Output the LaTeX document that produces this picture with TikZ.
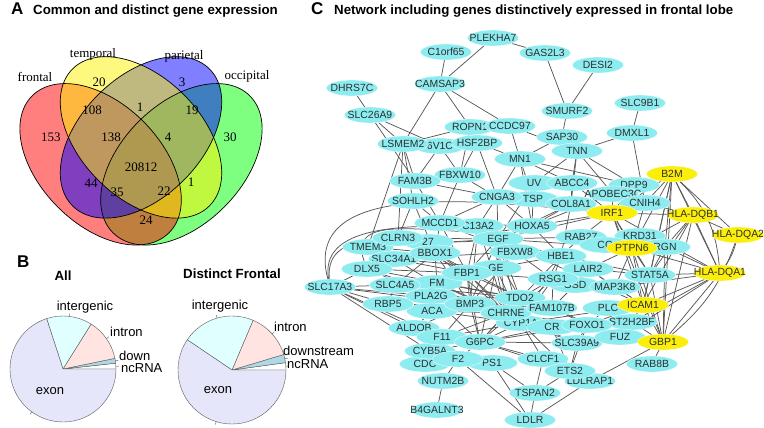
\documentclass[tikz,border=0pt]{standalone}
\usepackage{fontspec}
\setmainfont{Liberation Sans}
\newfontfamily\timesf{Liberation Serif}
\usetikzlibrary{shapes.geometric}
\pgfdeclarelayer{back}
\pgfdeclarelayer{bg}
\pgfsetlayers{back,bg,main}
\definecolor{cnode}{RGB}{140,236,240}
\definecolor{ynode}{RGB}{250,238,10}
\definecolor{edgec}{RGB}{88,88,88}
\definecolor{labc}{RGB}{45,45,45}
\definecolor{pexon}{RGB}{230,230,250}
\definecolor{pinter}{RGB}{224,255,255}
\definecolor{pintron}{RGB}{255,228,225}
\definecolor{pdown}{RGB}{173,216,230}
\definecolor{pline}{RGB}{90,90,90}
\newcommand\gnode[4]{\node[gene] (#1) at (#2,-#3) {\makebox[0pt]{#4}};}
\newcommand\ynode[4]{\node[gene,fill=ynode] (#1) at (#2,-#3) {\makebox[0pt]{#4}};}
\newcommand\pieslice[6]{\filldraw[fill=#6,draw=pline,line width=0.4pt] (#1,#2) -- ++(#4:#3) arc[start angle=#4,end angle=#5,radius=#3] -- cycle;}
\newcommand\pietick[4]{\draw[pline,line width=0.4pt] ([shift={(#4:#3)}]#1,#2) -- ([shift={(#4:#3+3)}]#1,#2);}
\begin{document}
\begin{tikzpicture}[x=1pt,y=1pt,
  gene/.style={ellipse,fill=cnode,draw=white,line width=0.3pt,minimum width=51pt,minimum height=16pt,inner sep=0pt,text=labc,font=\fontsize{10.4}{12}\selectfont},
  lnk/.style={draw=edgec,line width=0.75pt},
  vnum/.style={font=\timesf\fontsize{13}{15}\selectfont},
  plab/.style={font=\fontsize{13}{15}\selectfont},
  ptitle/.style={font=\bfseries\fontsize{13.3}{15}\selectfont},
  pletter/.style={font=\bfseries\fontsize{17}{19}\selectfont}]
\useasboundingbox (0,0) rectangle (764,-428);
\begin{pgfonlayer}{back}
\fill[white] (0,0) rectangle (764,-428);
\end{pgfonlayer}

% ---------- titles ----------
\node[pletter,anchor=base west,inner sep=0] (lA) at (11,-15) {A};
\node[ptitle,anchor=base west,inner sep=0] (tA) at (33,-15) {Common and distinct gene expression};
\node[pletter,anchor=base west,inner sep=0] (lB) at (17,-267) {B};
\node[pletter,anchor=base west,inner sep=0] (lC) at (311,-15) {C};
\node[ptitle,anchor=base west,inner sep=0] (tC) at (334,-15) {Network including genes distinctively expressed in frontal lobe};

% ---------- Venn ----------
\fill[green,fill opacity=0.5,rotate around={45:(181.4,-164.3)}] (181.4,-164.3) ellipse [x radius=96.8,y radius=60.5];
\fill[red,fill opacity=0.5,rotate around={135:(100.6,-164.3)}] (100.6,-164.3) ellipse [x radius=96.8,y radius=60.5];
\fill[blue,fill opacity=0.5,rotate around={45:(141,-137.4)}] (141,-137.4) ellipse [x radius=96.8,y radius=60.5];
\fill[yellow,fill opacity=0.5,rotate around={135:(141,-137.4)}] (141,-137.4) ellipse [x radius=96.8,y radius=60.5];
\begin{scope}[line width=0.7pt]
\draw[rotate around={45:(181.4,-164.3)}] (181.4,-164.3) ellipse [x radius=96.8,y radius=60.5];
\draw[rotate around={135:(100.6,-164.3)}] (100.6,-164.3) ellipse [x radius=96.8,y radius=60.5];
\draw[rotate around={45:(141,-137.4)}] (141,-137.4) ellipse [x radius=96.8,y radius=60.5];
\draw[rotate around={135:(141,-137.4)}] (141,-137.4) ellipse [x radius=96.8,y radius=60.5];
\end{scope}
\node[vnum,anchor=base] (sF) at (35,-81.7) {frontal};
\node[vnum,anchor=base] (sT) at (93,-57.3) {temporal};
\node[vnum,anchor=base] (sP) at (184,-60) {parietal};
\node[vnum,anchor=base] (sO) at (247,-80) {occipital};
\node[vnum] (v1) at (51,-137) {153};
\node[vnum] (v2) at (99,-82) {20};
\node[vnum] (v3) at (182,-82) {3};
\node[vnum] (v4) at (230,-137) {30};
\node[vnum] (v5) at (92,-110) {108};
\node[vnum] (v6) at (140,-107) {1};
\node[vnum] (v7) at (192,-110) {19};
\node[vnum] (v8) at (111,-137) {138};
\node[vnum] (v9) at (168,-137) {4};
\node[vnum] (v10) at (141,-167) {20812};
\node[vnum] (v11) at (91,-183) {44};
\node[vnum] (v12) at (191,-182) {1};
\node[vnum] (v13) at (117,-192) {35};
\node[vnum] (v14) at (164,-191) {22};
\node[vnum] (v15) at (146,-220) {24};

% ---------- Pies ----------
\node[ptitle,anchor=base] (tAll) at (63,-280) {All};
\node[ptitle,anchor=base] (tDF) at (232,-278) {Distinct Frontal};
\pieslice{63}{-369}{53}{0}{6.3}{white}
\pieslice{63}{-369}{53}{6.3}{11.6}{pdown}
\pieslice{63}{-369}{53}{11.6}{58}{pintron}
\pieslice{63}{-369}{53}{58}{108}{pinter}
\pieslice{63}{-369}{53}{108}{360}{pexon}
\pietick{63}{-369}{53}{3}
\pietick{63}{-369}{53}{9}
\pietick{63}{-369}{53}{35}
\pietick{63}{-369}{53}{83}
\pietick{63}{-369}{53}{234}
\pieslice{232}{-370}{54}{0}{7.8}{white}
\pieslice{232}{-370}{54}{7.8}{16.7}{pdown}
\pieslice{232}{-370}{54}{16.7}{67}{pintron}
\pieslice{232}{-370}{54}{67}{146}{pinter}
\pieslice{232}{-370}{54}{146}{360}{pexon}
\pietick{232}{-370}{54}{4}
\pietick{232}{-370}{54}{12}
\pietick{232}{-370}{54}{42}
\pietick{232}{-370}{54}{106}
\pietick{232}{-370}{54}{253}
\node[plab,anchor=base] (a1) at (85,-310) {intergenic};
\node[plab,anchor=base west,inner sep=0] (a2) at (110,-336) {intron};
\node[plab,anchor=base west,inner sep=0] (a3) at (119,-360) {down};
\node[plab,anchor=base west,inner sep=0] (a4) at (121,-372.7) {ncRNA};
\node[plab,anchor=base] (a5) at (50,-394) {exon};
\node[plab,anchor=base] (b1) at (220,-309) {intergenic};
\node[plab,anchor=base west,inner sep=0] (b2) at (274,-331) {intron};
\node[plab,anchor=base west,inner sep=0] (b3) at (283,-355) {downstream};
\node[plab,anchor=base west,inner sep=0] (b4) at (287,-368) {ncRNA};
\node[plab,anchor=base] (b5) at (218,-393) {exon};

% ---------- Network nodes (back) ----------
\gnode{fV1C}{440}{146}{6V1C}
\gnode{ROPN1}{470}{127}{ROPN1}
\gnode{fUV}{534}{183}{UV}
\gnode{fTSP}{533}{199}{TSP}
\gnode{DPP9}{634}{185}{DPP9}
\gnode{APOBEC}{613}{194}{APOBEC3C}
\gnode{fC13}{478}{226}{C13A2}
\gnode{f27}{428}{242}{27}
\gnode{fTMEM}{368}{247}{TMEM3}
\gnode{fGE}{496}{268}{GE}
\gnode{fFM}{437}{283}{FM}
\gnode{fKRD}{640}{236}{KRD31}
\gnode{fRAB}{581}{237}{RAB27}
\gnode{fCC}{605}{245}{CC}
\gnode{RGN}{665}{247}{RGN}
\gnode{fGSD}{575}{285}{GSD}
\gnode{fPLA}{431}{296}{PLA2G}
\gnode{fACA}{432}{311}{ACA}
\gnode{TDO2}{520}{298}{TDO2}
\gnode{fCYP}{521}{323}{CYP1A}
\gnode{fCR}{552}{327}{CR}
\gnode{fPLC}{608}{308}{PLC}
\gnode{fST2}{632}{322}{ST2H2BF}
\gnode{SLC39A9}{577}{343}{SLC39A9}
\gnode{fCDC}{425}{364}{CDC}
\gnode{CYB5A}{430}{351}{CYB5A}
\gnode{fPS1}{492}{363}{PS1}
\gnode{CLCF1}{543}{359}{CLCF1}
\gnode{LDLRAP1}{590}{381}{LDLRAP1}
\gnode{SLC34A1}{394}{259}{SLC34A1}
% ---------- Network nodes (front) ----------
\gnode{PLEKHA7}{493}{38}{PLEKHA7}
\gnode{C1orf65}{446}{52}{C1orf65}
\gnode{GAS2L3}{545}{53}{GAS2L3}
\gnode{DESI2}{598}{65}{DESI2}
\gnode{CAMSAP3}{440}{84}{CAMSAP3}
\gnode{DHRS7C}{352}{88}{DHRS7C}
\gnode{SLC26A9}{370}{115}{SLC26A9}
\gnode{SMURF2}{567}{111}{SMURF2}
\gnode{SLC9B1}{640}{103}{SLC9B1}
\gnode{CCDC97}{510}{126}{CCDC97}
\gnode{SAP30}{562}{137}{SAP30}
\gnode{DMXL1}{632}{133}{DMXL1}
\gnode{LSMEM2}{403}{144}{LSMEM2}
\gnode{HSF2BP}{477}{143}{HSF2BP}
\gnode{TNN}{577}{151}{TNN}
\gnode{MN1}{520}{159}{MN1}
\gnode{FBXW10}{460}{175}{FBXW10}
\gnode{FAM3B}{415}{181}{FAM3B}
\gnode{ABCC4}{572}{183}{ABCC4}
\ynode{B2M}{672}{174}{B2M}
\gnode{CNIH4}{645}{203}{CNIH4}
\gnode{COL8A1}{571}{204}{COL8A1}
\ynode{IRF1}{612}{213}{IRF1}
\ynode{HLAB}{693}{215}{HLA-DQB1}
\ynode{HLAA2}{738}{235}{HLA-DQA2}
\gnode{CNGA3}{497}{197}{CNGA3}
\gnode{SOHLH2}{413}{201}{SOHLH2}
\gnode{MCCD1}{440}{223}{MCCD1}
\gnode{HOXA5}{532}{226}{HOXA5}
\gnode{CLRN3}{398}{238}{CLRN3}
\gnode{EGF}{498}{239}{EGF}
\gnode{FBXW8}{515}{252}{FBXW8}
\gnode{BBOX1}{435}{253}{BBOX1}
\gnode{HBE1}{561}{256}{HBE1}
\ynode{PTPN6}{632}{248}{PTPN6}
\gnode{DLX5}{367}{269}{DLX5}
\gnode{FBP1}{467}{273}{FBP1}
\gnode{LAIR2}{588}{269}{LAIR2}
\gnode{STAT5A}{650}{275}{STAT5A}
\ynode{HLAA1}{720}{273}{HLA-DQA1}
\gnode{RSG1}{553}{279}{RSG1}
\gnode{MAP3K8}{615}{287}{MAP3K8}
\gnode{SLC17A3}{330}{287}{SLC17A3}
\gnode{SLC4A5}{395}{285}{SLC4A5}
\gnode{RBP5}{388}{304}{RBP5}
\gnode{BMP3}{470}{304}{BMP3}
\gnode{CHRNE}{506}{313}{CHRNE}
\gnode{FAM107B}{552}{308}{FAM107B}
\ynode{ICAM1}{643}{305}{ICAM1}
\gnode{ALDOB}{414}{328}{ALDOB}
\gnode{FOXO1}{587}{325}{FOXO1}
\gnode{F11}{442}{337}{F11}
\gnode{G6PC}{480}{342}{G6PC}
\gnode{FUZ}{620}{337}{FUZ}
\ynode{GBP1}{663}{342}{GBP1}
\gnode{F2}{458}{359}{F2}
\gnode{ETS2}{570}{371}{ETS2}
\gnode{RAB8B}{652}{364}{RAB8B}
\gnode{NUTM2B}{443}{381}{NUTM2B}
\gnode{TSPAN2}{535}{393}{TSPAN2}
\gnode{B4GALNT3}{437}{410}{B4GALNT3}
\gnode{LDLR}{530}{420}{LDLR}

% ---------- Network edges ----------
\begin{pgfonlayer}{bg}
\foreach \a/\b in {PLEKHA7/CAMSAP3, C1orf65/CAMSAP3, PLEKHA7/GAS2L3, GAS2L3/SMURF2, DESI2/SMURF2, SMURF2/SAP30, SLC9B1/DMXL1, DMXL1/TNN, DMXL1/CNIH4, CAMSAP3/LSMEM2, CAMSAP3/ROPN1, CAMSAP3/CCDC97, DHRS7C/SLC26A9, SLC26A9/LSMEM2, SLC26A9/fV1C, SLC26A9/FAM3B, CCDC97/TNN, CCDC97/MN1, LSMEM2/ROPN1, SAP30/MN1, SAP30/TNN, HSF2BP/CNGA3, HSF2BP/MN1, FAM3B/LSMEM2, FAM3B/fV1C, FBXW10/fV1C, FBXW10/HSF2BP, FBXW10/ROPN1, LSMEM2/fTMEM, LSMEM2/CLRN3, LSMEM2/SOHLH2, SOHLH2/MCCD1, SOHLH2/CLRN3, SOHLH2/BBOX1, FBXW10/MCCD1, FBXW10/CNGA3, FAM3B/CNGA3, FAM3B/MCCD1, CNGA3/MN1, CNGA3/HOXA5, CNGA3/EGF, CNGA3/MCCD1, CNGA3/fC13, CNGA3/COL8A1, MN1/HOXA5, MN1/fTSP, MN1/ABCC4, MN1/DPP9, TNN/ABCC4, TNN/COL8A1, TNN/fUV, TNN/DPP9, TNN/APOBEC, ABCC4/COL8A1, ABCC4/IRF1, fTSP/HOXA5, fUV/EGF,
MCCD1/EGF, MCCD1/FBP1, MCCD1/BBOX1, MCCD1/HOXA5, MCCD1/FBXW8, fC13/EGF, fC13/FBP1, fC13/BMP3, EGF/FBXW8, EGF/FBP1, EGF/BMP3, EGF/HBE1, EGF/TDO2, EGF/CHRNE, EGF/COL8A1, EGF/IRF1, EGF/fRAB, EGF/LAIR2, EGF/PTPN6, FBXW8/HBE1, FBXW8/FBP1, FBXW8/RSG1, FBXW8/BMP3, BBOX1/FBP1, BBOX1/SLC4A5, BBOX1/fFM, BBOX1/BMP3, CLRN3/BBOX1, CLRN3/FBP1, CLRN3/EGF, SLC34A1/FBP1, SLC34A1/BMP3, SLC34A1/fGE, DLX5/FBP1, DLX5/BMP3, DLX5/fPLA, DLX5/SLC34A1, SLC4A5/FBP1, SLC4A5/BMP3, SLC4A5/TDO2, FBP1/BMP3, FBP1/TDO2, FBP1/CHRNE, FBP1/G6PC, FBP1/RSG1, FBP1/HBE1, FBP1/fCYP, BMP3/TDO2, BMP3/CHRNE, BMP3/G6PC, BMP3/F11, BMP3/fCYP, BMP3/FAM107B, TDO2/FAM107B, TDO2/RSG1, TDO2/G6PC, CHRNE/fCYP, CHRNE/G6PC, CHRNE/FAM107B, CHRNE/FOXO1, CHRNE/SLC39A9, G6PC/fCYP, G6PC/F11, G6PC/FOXO1, G6PC/CLCF1, G6PC/SLC39A9, G6PC/ETS2, fCYP/FOXO1, fCYP/SLC39A9, fCYP/ETS2, fCYP/CLCF1, fCR/ETS2, FAM107B/FOXO1, FAM107B/RSG1, FAM107B/fGSD, FAM107B/FUZ, RSG1/LAIR2, RSG1/HBE1, RSG1/MAP3K8, HBE1/LAIR2, HBE1/fRAB, HBE1/COL8A1, HBE1/STAT5A, LAIR2/MAP3K8, LAIR2/STAT5A, LAIR2/PTPN6, fRAB/IRF1, fRAB/PTPN6, COL8A1/IRF1, COL8A1/HOXA5, HOXA5/IRF1, HOXA5/HBE1, IRF1/CNIH4, IRF1/PTPN6, IRF1/STAT5A, PTPN6/STAT5A, PTPN6/RGN, PTPN6/MAP3K8, STAT5A/MAP3K8, STAT5A/ICAM1, MAP3K8/ICAM1, MAP3K8/fGSD, fPLC/FOXO1, FOXO1/fST2, FOXO1/ICAM1, FOXO1/FUZ, FOXO1/SLC39A9, fST2/FUZ, ICAM1/FUZ, FUZ/SLC39A9, SLC39A9/ETS2, ETS2/CLCF1, CLCF1/TSPAN2, fPS1/TSPAN2, fPS1/LDLR, F2/LDLR, F2/G6PC, F2/NUTM2B, NUTM2B/B4GALNT3, fCDC/F2, CYB5A/ALDOB, CYB5A/F11, ALDOB/F11, ALDOB/fACA, ALDOB/BMP3, ALDOB/G6PC, RBP5/fACA, RBP5/BMP3, RBP5/SLC4A5, TSPAN2/LDLR, ETS2/TSPAN2, LDLR/LDLRAP1, LDLRAP1/GBP1, GBP1/RAB8B, ETS2/LDLRAP1, SLC17A3/SLC4A5, SLC17A3/RBP5, SLC17A3/ALDOB, SLC17A3/F11, SLC17A3/CYB5A, SLC17A3/DLX5, SLC17A3/fPLA, SLC17A3/BMP3, fTMEM/CLRN3, fTMEM/BBOX1, fTMEM/EGF, fTMEM/SLC34A1,
fGE/CHRNE, fGE/fCYP, fGE/G6PC, fFM/TDO2, fFM/CHRNE, fPLA/TDO2, fPLA/CHRNE, fACA/CHRNE, fACA/fCYP, SLC4A5/CHRNE, SLC4A5/fCYP, BBOX1/TDO2, BBOX1/CHRNE, fC13/TDO2, fC13/CHRNE, EGF/fCYP, HBE1/CHRNE, HBE1/fCYP, RSG1/fCYP, RSG1/G6PC, F11/fCYP, F11/CHRNE, CYB5A/G6PC, fCR/G6PC, FOXO1/ETS2, ICAM1/fCYP, SLC34A1/FBXW8, DLX5/TDO2, fPLA/G6PC, fFM/fCYP,
B2M/HLAB, B2M/HLAA1, B2M/HLAA2, B2M/GBP1, B2M/ICAM1, B2M/IRF1, B2M/PTPN6, B2M/STAT5A, B2M/CNIH4, B2M/RGN, HLAB/HLAA2, HLAB/HLAA1, HLAB/PTPN6, HLAB/RGN, HLAB/STAT5A, HLAB/IRF1, HLAB/GBP1, HLAB/ICAM1, HLAB/CNIH4, HLAA1/GBP1, HLAA1/ICAM1, HLAA1/STAT5A, HLAA1/RGN, HLAA1/IRF1, HLAA1/PTPN6, HLAA1/MAP3K8, HLAA1/FUZ, HLAA1/fST2, GBP1/ICAM1, GBP1/STAT5A, GBP1/IRF1, GBP1/FUZ, GBP1/fST2, GBP1/PTPN6, GBP1/RGN, ICAM1/IRF1, ICAM1/PTPN6, ICAM1/EGF, ICAM1/LAIR2, STAT5A/RGN, CNIH4/PTPN6, DPP9/IRF1, APOBEC/IRF1, APOBEC/EGF}
  \draw[lnk] (\a) -- (\b);
\draw[lnk] (HLAA2) to[bend left=15] (GBP1);
\draw[lnk] (HLAA2) to[bend left=10] (HLAA1);
\draw[lnk] (B2M) to[bend left=20] (HLAA1);
\draw[lnk] (SLC17A3) to[out=95,in=185] (EGF);
\draw[lnk] (SLC17A3) to[out=100,in=180] (fC13);
\draw[lnk] (SLC17A3) to[out=105,in=175] (IRF1);
\draw[lnk] (DLX5) to[out=110,in=190] (HOXA5);
\end{pgfonlayer}
\end{tikzpicture}
\end{document}
